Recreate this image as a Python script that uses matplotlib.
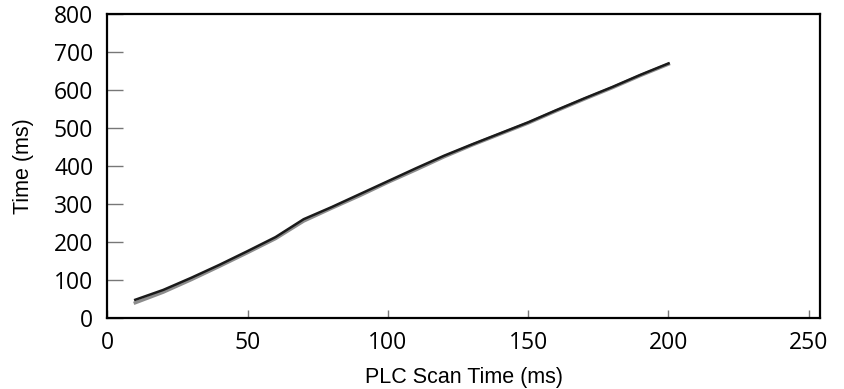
import matplotlib.pyplot as plt

# PLC scan time vs. measured time, two runs
scan_ms = [10, 20, 30, 40, 50, 60, 70, 80, 90, 100,
           110, 120, 130, 140, 150, 160, 170, 180, 190, 200]
run_dark = [48, 74, 106, 140, 176, 213, 260, 292, 326, 360,
            394, 427, 457, 486, 515, 547, 578, 608, 640, 670]
run_gray = [40, 68, 101, 136, 172, 209, 255, 289, 322, 357,
            390, 424, 455, 484, 513, 545, 576, 606, 638, 668]

x_ticks = [0, 50, 100, 150, 200, 250]
y_ticks = [0, 100, 200, 300, 400, 500, 600, 700, 800]

fig = plt.figure(figsize=(8.44, 3.89), dpi=100)
ax = fig.add_axes([0.127, 0.1825, 0.8446, 0.7815])

ax.plot(scan_ms, run_gray, color='#8c8c8c', linewidth=2.4)
ax.plot(scan_ms, run_dark, color='#1a1a1a', linewidth=1.8)

ax.set_xlim(0, 254)
ax.set_ylim(0, 800)
ax.set_xticks(x_ticks)
ax.set_yticks(y_ticks)

tick_font = {'family': 'Open Sans', 'size': 16.5}
ax.set_xticklabels([str(v) for v in x_ticks], fontdict=tick_font)
ax.set_yticklabels([str(v) for v in y_ticks], fontdict=tick_font)
ax.tick_params(axis='x', direction='in', length=6, width=1, color='#777777', pad=9)
ax.tick_params(axis='y', direction='in', length=11.5, width=1, color='#777777', pad=10)

for side in ax.spines.values():
    side.set_linewidth(1.6)
    side.set_color('black')

ax.set_xlabel('PLC Scan Time (ms)', family='Liberation Sans', fontsize=15.5, labelpad=9)
ax.set_ylabel('Time (ms)', family='Liberation Sans', fontsize=15.5, labelpad=14)

fig.savefig('out.png', dpi=100)
